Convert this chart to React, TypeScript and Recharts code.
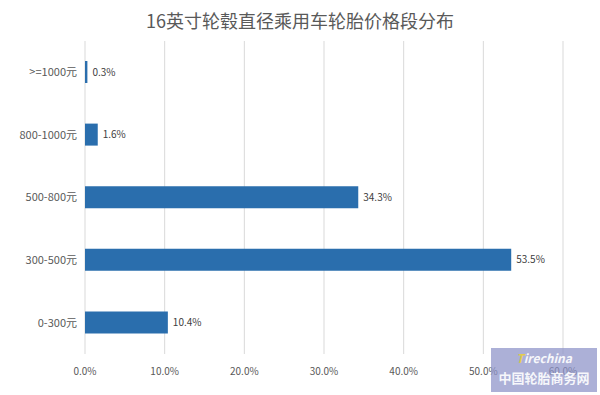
import React from 'react';
import { BarChart, Bar, XAxis, YAxis, CartesianGrid, LabelList } from 'recharts';

const categories = ['>=1000元', '800-1000元', '500-800元', '300-500元', '0-300元'];
const shares = [0.3, 1.6, 34.3, 53.5, 10.4];
const xTicks = [0, 10, 20, 30, 40, 50, 60];

const data = categories.map((name, i) => ({ name, value: shares[i] }));

const FONT = '"Noto Sans CJK SC", "Noto Sans", sans-serif';

export default function App() {
  return (
    <div style={{ position: 'absolute', left: 0, top: 0, width: 600, height: 395, background: '#fff', fontFamily: FONT }}>
      <div style={{ position: 'absolute', left: 0, top: 8, width: 600, textAlign: 'center', fontSize: 18, color: '#595959', lineHeight: '24px' }}>
        16英寸轮毂直径乘用车轮胎价格段分布
      </div>
      <BarChart
        width={600}
        height={395}
        layout="vertical"
        data={data}
        margin={{ top: 41, right: 37, bottom: 11, left: 0 }}
        barCategoryGap={0}
      >
        <CartesianGrid horizontal={false} stroke="#d9d9d9" />
        <XAxis
          type="number"
          domain={[0, 60]}
          ticks={xTicks}
          tickFormatter={(v: number) => v.toFixed(1) + '%'}
          axisLine={false}
          tickLine={false}
          height={30}
          tick={{ fill: '#595959', fontSize: 10, fontFamily: FONT }}
          tickMargin={8}
        />
        <YAxis
          type="category"
          dataKey="name"
          width={85}
          axisLine={false}
          tickLine={false}
          tickSize={0}
          tickMargin={8}
          tick={{ fill: '#595959', fontSize: 11, fontFamily: FONT }}
        />
        <Bar dataKey="value" fill="#2a6ead" barSize={22} isAnimationActive={false}>
          <LabelList
            dataKey="value"
            position="right"
            offset={5}
            formatter={(v: number) => v.toFixed(1) + '%'}
            style={{ fill: '#404040', fontSize: 10, fontFamily: FONT }}
          />
        </Bar>
      </BarChart>
      <div
        style={{
          position: 'absolute',
          left: 491,
          top: 348,
          width: 106,
          height: 44,
          background: 'rgba(140,145,200,0.72)',
          color: '#fff',
          textAlign: 'center',
          fontFamily: FONT,
        }}
      >
        <div style={{ fontSize: 12, fontStyle: 'italic', fontWeight: 700, lineHeight: '20px', color: '#fff', opacity: 0.9 }}>
          <span style={{ color: '#e8d040' }}>T</span>irechina
        </div>
        <div style={{ fontSize: 13, fontWeight: 700, lineHeight: '20px', opacity: 0.9 }}>中国轮胎商务网</div>
      </div>
    </div>
  );
}
